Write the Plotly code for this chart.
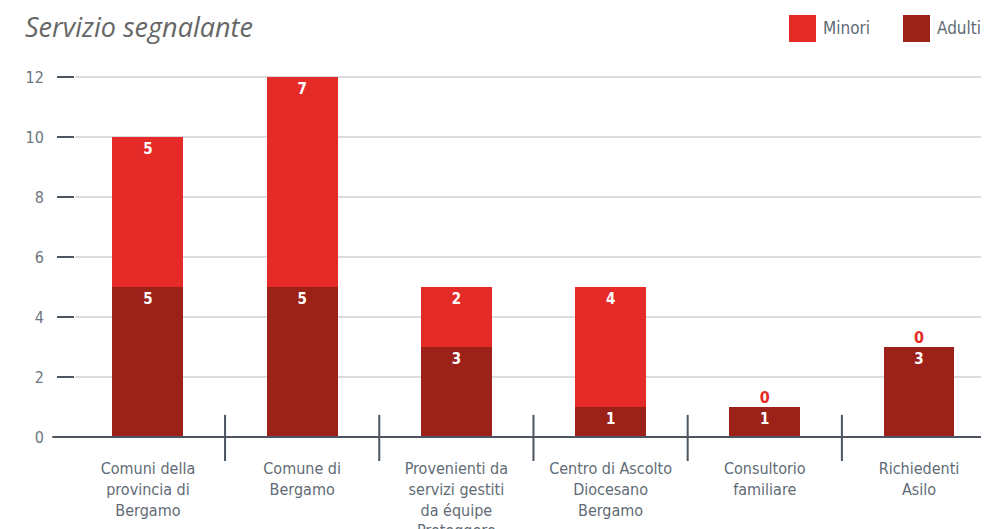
import plotly.graph_objects as go

# dati
categorie = [
    "Comuni della<br>provincia di<br>Bergamo",
    "Comune di<br>Bergamo",
    "Provenienti da<br>servizi gestiti<br>da équipe<br>Proteggere",
    "Centro di Ascolto<br>Diocesano<br>Bergamo",
    "Consultorio<br>familiare",
    "Richiedenti<br>Asilo",
]
adulti = [5, 5, 3, 1, 1, 3]
minori = [5, 7, 2, 4, 0, 0]

ROSSO = "#E52B27"
ROSSO_SCURO = "#9B2119"
GRIGIO = "#5F6B75"
FONT = "Liberation Sans Narrow, DejaVu Sans Condensed, Roboto, sans-serif"

fig = go.Figure()

fig.add_trace(go.Bar(
    x=categorie, y=adulti, name="Adulti",
    marker=dict(color=ROSSO_SCURO, line=dict(width=0)),
    text=[str(v) for v in adulti], textposition="inside", insidetextanchor="end",
    textfont=dict(color="white", size=15, family=FONT, weight="bold"),
    width=0.46,
))
fig.add_trace(go.Bar(
    x=categorie, y=[m if m > 0 else None for m in minori], name="Minori",
    marker=dict(color=ROSSO, line=dict(width=0)),
    text=[str(v) for v in minori], textposition="inside", insidetextanchor="end",
    textfont=dict(color="white", size=15, family=FONT, weight="bold"),
    width=0.46,
))

# etichette "0" sopra le barre senza minori
zero_x = [c for c, m in zip(categorie, minori) if m == 0]
zero_y = [a + m for a, m in zip(adulti, minori) if m == 0]
fig.add_trace(go.Scatter(
    x=zero_x, y=zero_y, mode="text", text=["0"] * len(zero_x),
    textposition="top center",
    textfont=dict(color=ROSSO, size=16, family=FONT, weight="bold"),
    showlegend=False, hoverinfo="skip",
))

# separatori tra categorie
for i in range(len(categorie) - 1):
    fig.add_shape(type="line", xref="x", yref="paper",
                  x0=i + 0.5, x1=i + 0.5, y0=-0.064, y1=0.059,
                  line=dict(color="#4A5560", width=2))

# linea di base
fig.add_shape(type="line", xref="paper", yref="paper",
              x0=-0.025, x1=1, y0=0, y1=0,
              line=dict(color="#4A5560", width=2))

# legenda
for x0, colore, nome in [(789, ROSSO, "Minori"), (903, ROSSO_SCURO, "Adulti")]:
    fig.add_shape(type="rect", xref="paper", yref="paper",
                  x0=(x0 - 75) / 910, x1=(x0 + 27 - 75) / 910,
                  y0=(437 - 42) / 375, y1=(437 - 15) / 375,
                  fillcolor=colore, line=dict(width=0))
    fig.add_annotation(xref="paper", yref="paper",
                       x=(x0 + 32 - 75) / 910, y=(437 - 28) / 375,
                       text=nome, showarrow=False, xanchor="left", yanchor="middle",
                       font=dict(size=17, color=GRIGIO, family=FONT))

fig.update_layout(
    barmode="stack",
    width=981, height=521,
    margin=dict(l=67, r=4, t=54, b=92),
    paper_bgcolor="white", plot_bgcolor="white",
    showlegend=False,
    title=dict(text="<i>Servizio segnalante</i>", x=17 / 981, xanchor="left",
               y=1 - 20 / 521, yanchor="middle",
               font=dict(size=27, color="#666666", family="Open Sans, sans-serif")),
    xaxis=dict(range=[-0.473, 5.428], showgrid=False, showline=False, ticks="",
               tickfont=dict(size=16, color=GRIGIO, family=FONT),
               ticklabelstandoff=20, automargin=False),
    yaxis=dict(range=[0, 12.5], tickvals=[0, 2, 4, 6, 8, 10, 12],
               showgrid=True, gridcolor="#DADCDF", gridwidth=2,
               zeroline=False, showline=False, automargin=False,
               ticks="outside", ticklen=17, tickwidth=2, tickcolor="#4A5560",
               ticklabelstandoff=10,
               tickfont=dict(size=16, color="#6B7680", family=FONT)),
)

fig.write_html("out.html")
